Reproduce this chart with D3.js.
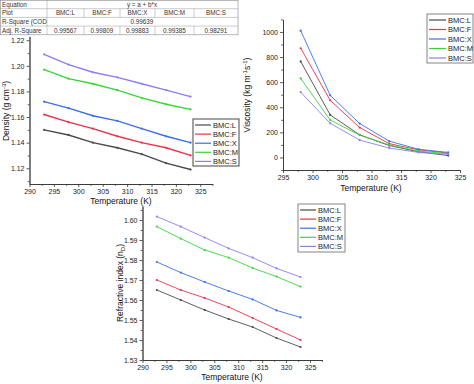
<!DOCTYPE html>
<html>
<head>
<meta charset="utf-8">
<script src="https://cdn.jsdelivr.net/npm/d3@7"></script>
<style>
body{margin:0;background:#fff;}
svg{font-family:"Liberation Sans",Arial,sans-serif;display:block;}
.axis path,.axis line{stroke:#333;stroke-width:0.8;}
.axis text{font-size:7px;fill:#222;}
.label{font-size:8.5px;fill:#111;}
.leg{font-size:7.5px;fill:#222;}
.tab{font-size:6.3px;fill:#333;}
</style>
</head>
<body>
<svg id="fig" width="474" height="384"></svg>
<script>
// series names and colours
var names = ["BMC:L","BMC:F","BMC:X","BMC:M","BMC:S"];
var colors = ["#4a4a4a","#e8334a","#3a6fe6","#3ad43a","#8a7ff0"];

// temperatures (K)
var tempsDR = [293,298,303,308,313,318,323];
var tempsVisc = [298,303,308,313,318,323];

// density (g cm-3)
var densL = [1.150,1.146,1.140,1.136,1.131,1.124,1.119];
var densF = [1.162,1.156,1.151,1.145,1.140,1.136,1.130];
var densX = [1.172,1.167,1.161,1.157,1.151,1.145,1.140];
var densM = [1.197,1.190,1.186,1.181,1.175,1.170,1.166];
var densS = [1.209,1.201,1.195,1.191,1.186,1.181,1.176];

// viscosity (kg m-1 s-1)
var viscL = [765,339,180,95,45,15];
var viscF = [870,455,238,110,60,35];
var viscX = [1010,495,270,130,65,40];
var viscM = [630,298,178,100,50,30];
var viscS = [520,272,138,75,40,25];

// refractive index
var riL = [1.565,1.560,1.555,1.5505,1.5465,1.541,1.5365];
var riF = [1.570,1.565,1.561,1.5565,1.551,1.5455,1.540];
var riX = [1.579,1.5737,1.569,1.5645,1.5603,1.5548,1.5513];
var riM = [1.5967,1.5907,1.585,1.5812,1.576,1.5717,1.5667];
var riS = [1.6017,1.5967,1.5912,1.5858,1.5812,1.5758,1.5715];

// fit table
var tableRows = ["Equation","Plot","R-Square (COD","Adj. R-Square"];
var equation = "y = a + b*x";
var rSquare = "0.99639";
var adjR = ["0.99567","0.99809","0.99883","0.99385","0.98291"];

var svg = d3.select("#fig");

var makeTranslateString = function(x,y){
    return "translate("+x+","+y+")";
}

var zipSeries = function(xs, ys){
    return xs.map(function(x,i){ return {x:x, y:ys[i]}; });
}

var drawAxes = function(xScale,yScale,xMajor,xMinor,yMajor,yMinor,yFmt){
    var yBase = yScale.range()[0];
    var xBase = xScale.range()[0];
    var axes = svg.append("g");
    axes.append("g").attr("class","axis")
        .attr("transform",makeTranslateString(0,yBase))
        .call(d3.axisBottom(xScale).tickValues(xMinor).tickSize(1.8).tickSizeOuter(0).tickFormat(""));
    axes.append("g").attr("class","axis")
        .attr("transform",makeTranslateString(0,yBase))
        .call(d3.axisBottom(xScale).tickValues(xMajor).tickSize(3).tickSizeOuter(0).tickPadding(2));
    axes.append("g").attr("class","axis")
        .attr("transform",makeTranslateString(xBase,0))
        .call(d3.axisLeft(yScale).tickValues(yMinor).tickSize(1.8).tickSizeOuter(0).tickFormat(""));
    axes.append("g").attr("class","axis")
        .attr("transform",makeTranslateString(xBase,0))
        .call(d3.axisLeft(yScale).tickValues(yMajor).tickSize(3).tickSizeOuter(0).tickPadding(2).tickFormat(yFmt));
}

var drawLines = function(xScale,yScale,xs,seriesList,width,markers){
    var lineGenerator = d3.line()
        .x(function(d){ return xScale(d.x); })
        .y(function(d){ return yScale(d.y); });
    seriesList.forEach(function(ys,i){
        var pts = zipSeries(xs,ys);
        svg.append("path")
            .datum(pts)
            .attr("fill","none")
            .attr("stroke",colors[i])
            .attr("stroke-width",width)
            .attr("d",lineGenerator);
        if(markers){
            svg.append("g").selectAll("circle")
                .data(pts).enter().append("circle")
                .attr("cx",function(d){ return xScale(d.x); })
                .attr("cy",function(d){ return yScale(d.y); })
                .attr("r",1.1)
                .attr("fill",colors[i]);
        }
    });
}

var drawLegend = function(x,y,w,h,rowH,lineW,border,bw){
    var g = svg.append("g").attr("transform",makeTranslateString(x,y));
    g.append("rect").attr("width",w).attr("height",h)
        .attr("fill","#fff").attr("stroke",border).attr("stroke-width",bw);
    names.forEach(function(n,i){
        var cy = 6 + i*rowH;
        g.append("line").attr("x1",2).attr("x2",2+lineW)
            .attr("y1",cy).attr("y2",cy)
            .attr("stroke",colors[i]).attr("stroke-width",1.2);
        g.append("text").attr("class","leg")
            .attr("x",4+lineW).attr("y",cy+2.6).text(n);
    });
}

var drawYLabel = function(x,y,parts){
    var t = svg.append("text").attr("class","label")
        .attr("text-anchor","middle")
        .attr("transform",makeTranslateString(x,y)+" rotate(-90)");
    parts.forEach(function(p){
        var ts = t.append("tspan").text(p[0]);
        if(p[1]=="sup"){ ts.attr("dy",-3).attr("font-size","6px"); }
        if(p[1]=="sub"){ ts.attr("dy",2).attr("font-size","6px"); }
        if(p[1]=="back"){ ts.attr("dy",3); }
        if(p[1]=="up"){ ts.attr("dy",-2); }
    });
}

var drawXLabel = function(x,y){
    svg.append("text").attr("class","label")
        .attr("text-anchor","middle")
        .attr("x",x).attr("y",y).text("Temperature (K)");
}

// ---------- table ----------
var drawTable = function(){
    var cols = [0,47,84,120,155,194,238];
    var rowY = [0,8.7,17.4,26.1,34.8];
    var g = svg.append("g");
    g.append("rect").attr("x",0.5).attr("y",0.5).attr("width",237.5).attr("height",34.3)
        .attr("fill","#fff").attr("stroke","#888").attr("stroke-width",0.6);
    rowY.slice(1,4).forEach(function(y){
        g.append("line").attr("x1",0).attr("x2",238).attr("y1",y).attr("y2",y)
            .attr("stroke","#999").attr("stroke-width",0.5);
    });
    g.append("line").attr("x1",47).attr("x2",47).attr("y1",0).attr("y2",34.8)
        .attr("stroke","#999").attr("stroke-width",0.5);
    [1,3].forEach(function(r){
        cols.slice(2,6).forEach(function(c){
            g.append("line").attr("x1",c).attr("x2",c).attr("y1",rowY[r]).attr("y2",rowY[r+1])
                .attr("stroke","#999").attr("stroke-width",0.5);
        });
    });
    tableRows.forEach(function(r,i){
        g.append("text").attr("class","tab").attr("x",2).attr("y",rowY[i]+6.5).text(r);
    });
    g.append("text").attr("class","tab").attr("text-anchor","middle")
        .attr("x",142).attr("y",6.5).text(equation);
    g.append("text").attr("class","tab").attr("text-anchor","middle")
        .attr("x",142).attr("y",rowY[2]+6.5).text(rSquare);
    names.forEach(function(n,i){
        var cx = (cols[i+1]+cols[i+2])/2;
        g.append("text").attr("class","tab").attr("text-anchor","middle")
            .attr("x",cx).attr("y",rowY[1]+6.5).text(n);
        g.append("text").attr("class","tab").attr("text-anchor","middle")
            .attr("x",cx).attr("y",rowY[3]+6.5).text(adjR[i]);
    });
}

// ---------- density ----------
var drawDensity = function(){
    var xScale = d3.scaleLinear().domain([290,327.5]).range([29.5,212.5]);
    var yScale = d3.scaleLinear().domain([1.1077,1.223]).range([184,36.4]);
    drawAxes(xScale,yScale,
        d3.range(290,326,5), d3.range(292.5,328,5),
        [1.12,1.14,1.16,1.18,1.20,1.22], [1.11,1.13,1.15,1.17,1.19,1.21],
        d3.format(".2f"));
    drawLines(xScale,yScale,tempsDR,[densL,densF,densX,densM,densS],1.4,true);
    drawLegend(193,119,46,47,9.1,16,"#444",1);
    drawYLabel(9,111,[["Density (g cm"],["-3","sup"],[")","back"]]);
    drawXLabel(121,204);
}

// ---------- viscosity ----------
var drawViscosity = function(){
    var xScale = d3.scaleLinear().domain([295,325]).range([283,460]);
    var yScale = d3.scaleLinear().domain([-100,1100]).range([170,19.4]);
    drawAxes(xScale,yScale,
        d3.range(295,326,5), d3.range(297.5,325,5),
        d3.range(0,1001,200), d3.range(-100,1101,200),
        d3.format("d"));
    drawLines(xScale,yScale,tempsVisc,[viscL,viscF,viscX,viscM,viscS],0.9,true);
    drawLegend(427,14,46,49,9.5,17,"#666",0.8);
    drawYLabel(250,95,[["Viscosity (kg m"],["-1","sup"],["s","back"],["-1","sup"],[")","back"]]);
    drawXLabel(371,191);
}

// ---------- refractive index ----------
var drawRefractive = function(){
    var xScale = d3.scaleLinear().domain([290,327.5]).range([142.5,322]);
    var yScale = d3.scaleLinear().domain([1.53,1.607]).range([360,206]);
    drawAxes(xScale,yScale,
        d3.range(290,326,5), d3.range(292.5,328,5),
        d3.range(1.53,1.6001,0.01), d3.range(1.535,1.607,0.01),
        d3.format(".2f"));
    drawLines(xScale,yScale,tempsDR,[riL,riF,riX,riM,riS],0.9,true);
    drawLegend(298,204,47,48,9.1,16,"#666",0.8);
    drawYLabel(123,283,[["Refractive index (n"],["D","sub"],[")","up"]]);
    drawXLabel(232,380);
}

drawTable();
drawDensity();
drawViscosity();
drawRefractive();
</script>
</body>
</html>
